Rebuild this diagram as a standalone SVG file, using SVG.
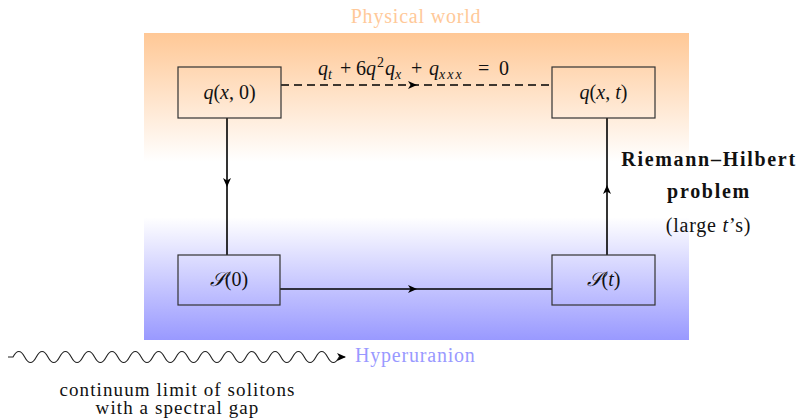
<svg xmlns="http://www.w3.org/2000/svg" width="800" height="420" viewBox="0 0 800 420">
<defs>
<linearGradient id="bg" x1="0" y1="0" x2="0" y2="1">
<stop offset="0" stop-color="#FFC896"/>
<stop offset="0.42" stop-color="#FFFFFF"/>
<stop offset="0.6" stop-color="#FFFFFF"/>
<stop offset="1" stop-color="#9999FF"/>
</linearGradient>
<marker id="arr" viewBox="-10 -6 12 12" markerWidth="12" markerHeight="12" refX="0" refY="0" orient="auto" markerUnits="userSpaceOnUse">
<path d="M1,0 L-8,-4 L-5.5,0 L-8,4 Z" fill="#000"/>
</marker>
</defs>
<style>
text{font-family:'Liberation Serif','DejaVu Serif',serif;fill:#111;font-size:20px;}
.sp{letter-spacing:0.8px;}
.sm{font-size:19px;letter-spacing:1.1px;}
.b{font-weight:bold;letter-spacing:1.7px;}
.i{font-style:italic;}
.sub{font-size:14px;font-style:italic;}
.box{fill:none;stroke:#333;stroke-width:1.2;}
.ln{fill:none;stroke:#000;stroke-width:1.6;}
</style>
<rect x="144" y="33" width="545" height="307" fill="url(#bg)"/>
<text class="sp" x="416" y="23" text-anchor="middle" style="fill:#FFC999">Physical world</text>
<g id="connectors">
<path class="ln" d="M281,85 L416,85 L552,85" stroke-dasharray="8,5" marker-mid="url(#arr)"/>
<path class="ln" d="M227,118 L227,186 L227,255" marker-mid="url(#arr)"/>
<path class="ln" d="M280,289 L416,289 L552,289" marker-mid="url(#arr)"/>
<path class="ln" d="M607,255 L607,186 L607,118" marker-mid="url(#arr)"/>
<path fill="none" stroke="#222" stroke-width="1.1" d="M8,357 L13,357 c3.88,-7.33 7.77,-7.33 11.65,0 s7.77,7.33 11.65,0 s7.77,-7.33 11.65,0 s7.77,7.33 11.65,0 s7.77,-7.33 11.65,0 s7.77,7.33 11.65,0 s7.77,-7.33 11.65,0 s7.77,7.33 11.65,0 s7.77,-7.33 11.65,0 s7.77,7.33 11.65,0 s7.77,-7.33 11.65,0 s7.77,7.33 11.65,0 s7.77,-7.33 11.65,0 s7.77,7.33 11.65,0 s7.77,-7.33 11.65,0 s7.77,7.33 11.65,0 s7.77,-7.33 11.65,0 s7.77,7.33 11.65,0 s7.77,-7.33 11.65,0 s7.77,7.33 11.65,0 s7.77,-7.33 11.65,0 s7.77,7.33 11.65,0 s7.77,-7.33 11.65,0 s7.77,7.33 11.65,0 s7.77,-7.33 11.65,0 s7.77,7.33 11.65,0 s7.77,-7.33 11.65,0 s7.77,7.33 11.65,0 L345,357" marker-end="url(#arr)"/>
</g>
<text y="75"><tspan class="i" x="318">q</tspan><tspan class="sub" x="328" y="79">t</tspan><tspan x="340" y="75">+</tspan><tspan x="356">6</tspan><tspan class="i" x="366">q</tspan><tspan x="377" y="67" font-size="14">2</tspan><tspan class="i" x="385" y="75">q</tspan><tspan class="sub" x="395" y="79">x</tspan><tspan x="411" y="75">+</tspan><tspan class="i" x="429">q</tspan><tspan class="sub" x="439" y="79" letter-spacing="2">xxx</tspan><tspan x="478" y="75">=</tspan><tspan x="499">0</tspan></text>
<g id="node-q0">
<rect class="box" x="178" y="67" width="103" height="51"/>
<text x="229.5" y="99" text-anchor="middle"><tspan class="i">q</tspan>(<tspan class="i">x</tspan>, 0)</text>
</g>
<g id="node-qt">
<rect class="box" x="552" y="67" width="103" height="51"/>
<text x="603.5" y="99" text-anchor="middle"><tspan class="i">q</tspan>(<tspan class="i">x</tspan>, <tspan class="i">t</tspan>)</text>
</g>
<g id="node-S0">
<rect class="box" x="178" y="255" width="102" height="50"/>
<text x="229" y="286" text-anchor="middle"><tspan class="i">𝒮</tspan>(0)</text>
</g>
<g id="node-St">
<rect class="box" x="552" y="255" width="103" height="50"/>
<text x="603.5" y="286" text-anchor="middle"><tspan class="i">𝒮</tspan>(<tspan class="i">t</tspan>)</text>
</g>
<text class="b" x="709" y="166" text-anchor="middle">Riemann–Hilbert</text>
<text class="b" x="709" y="198" text-anchor="middle">problem</text>
<text class="sp" x="708.5" y="232" text-anchor="middle">(large <tspan class="i">t</tspan>’s)</text>
<text class="sp" x="355" y="362" style="fill:#9999FF">Hyperuranion</text>
<text class="sm" x="177.5" y="396" text-anchor="middle">continuum limit of solitons</text>
<text class="sm" x="177.5" y="414" text-anchor="middle">with a spectral gap</text>
</svg>
